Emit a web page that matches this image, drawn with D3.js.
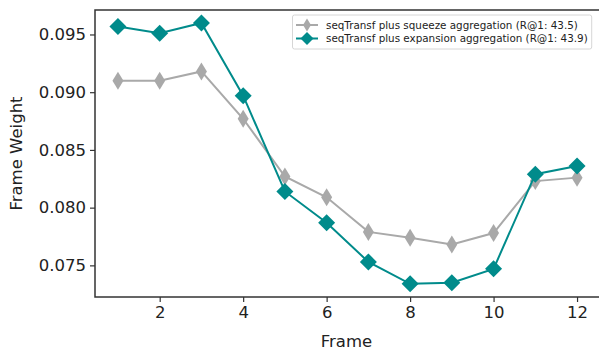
<!DOCTYPE html>
<html>
<head>
<meta charset="utf-8">
<script src="https://cdn.jsdelivr.net/npm/d3@7"></script>
<style>
  body { margin: 0; background: #fff; }
  text { font-family: "DejaVu Sans", sans-serif; fill: #222; }
</style>
</head>
<body>
<div id="chart"></div>
<script>
// data
var frames = [1, 2, 3, 4, 5, 6, 7, 8, 9, 10, 11, 12];
var squeeze = [0.0910, 0.0910, 0.0918, 0.0877, 0.0827, 0.0809, 0.0779, 0.0774, 0.0768, 0.0778, 0.0823, 0.0826];
var expansion = [0.0957, 0.0951, 0.0960, 0.0897, 0.0814, 0.0787, 0.0753, 0.0734, 0.0735, 0.0747, 0.0829, 0.0836];
var xTicks = [2, 4, 6, 8, 10, 12];
var yTicks = [0.075, 0.080, 0.085, 0.090, 0.095];
var seriesNames = ["seqTransf plus squeeze aggregation (R@1: 43.5)",
                   "seqTransf plus expansion aggregation (R@1: 43.9)"];

(function() {
  var width = 599, height = 350;
  var mLeft = 95, mRight = 600, mTop = 10, mBottom = 297;
  var spineColor = '#333';

  var svg = d3.select('#chart').append('svg')
    .attr('width', width)
    .attr('height', height);

  var x = d3.scaleLinear().domain([0.45, 12.55]).range([mLeft, mRight]);
  var y = d3.scaleLinear().domain([0.07226, 0.09712]).range([mBottom, mTop]);

  // axes
  var xAxis = svg.append('g')
    .attr('transform', 'translate(0,' + mBottom + ')')
    .call(d3.axisBottom(x).tickValues(xTicks).tickSize(5).tickPadding(4).tickFormat(d3.format('d')));
  var yAxis = svg.append('g')
    .attr('transform', 'translate(' + mLeft + ',0)')
    .call(d3.axisLeft(y).tickValues(yTicks).tickSize(5).tickPadding(4).tickFormat(d3.format('.3f')));

  [xAxis, yAxis].forEach(function(g) {
    g.select('.domain').remove();
    g.selectAll('line').attr('stroke', spineColor).attr('stroke-width', 1.2);
    g.selectAll('text').attr('font-size', 16.5).attr('font-family', 'DejaVu Sans').attr('fill', '#222');
  });

  // spines (right one falls just outside the picture)
  svg.append('rect')
    .attr('x', mLeft).attr('y', mTop)
    .attr('width', mRight - mLeft).attr('height', mBottom - mTop)
    .attr('fill', 'none')
    .attr('stroke', spineColor)
    .attr('stroke-width', 1.5);

  // axis labels
  svg.append('text')
    .attr('x', (mLeft + mRight) / 2 - 1)
    .attr('y', 347)
    .attr('text-anchor', 'middle')
    .attr('font-size', 16.5)
    .text('Frame');
  svg.append('text')
    .attr('transform', 'translate(22,' + ((mTop + mBottom) / 2) + ') rotate(-90)')
    .attr('text-anchor', 'middle')
    .attr('font-size', 16.5)
    .text('Frame Weight');

  function diamond(cx, cy, hw, hh) {
    return 'M' + cx + ',' + (cy - hh) + 'L' + (cx + hw) + ',' + cy +
           'L' + cx + ',' + (cy + hh) + 'L' + (cx - hw) + ',' + cy + 'Z';
  }

  function drawSeries(vals, color, hw, hh) {
    var line = d3.line()
      .x(function(d, i) { return x(frames[i]); })
      .y(function(d) { return y(d); });
    svg.append('path')
      .datum(vals)
      .attr('d', line)
      .attr('fill', 'none')
      .attr('stroke', color)
      .attr('stroke-width', 2);
    svg.append('g').selectAll('path')
      .data(vals)
      .enter().append('path')
      .attr('d', function(d, i) { return diamond(x(frames[i]), y(d), hw, hh); })
      .attr('fill', color);
  }

  drawSeries(squeeze, '#a9a9a9', 5.5, 9);
  drawSeries(expansion, '#008b8b', 8.5, 8.5);

  // legend
  var lg = svg.append('g');
  var box = lg.append('rect')
    .attr('x', 292.5).attr('y', 15)
    .attr('width', 300).attr('height', 34)
    .attr('rx', 2)
    .attr('fill', '#fff')
    .attr('fill-opacity', 0.8)
    .attr('stroke', '#d6d6d6')
    .attr('stroke-width', 1);

  var legendRows = [
    {name: seriesNames[0], color: '#a9a9a9', hw: 4, hh: 6.5, yy: 25},
    {name: seriesNames[1], color: '#008b8b', hw: 6.5, hh: 6.5, yy: 38.5}
  ];
  var labels = [];
  legendRows.forEach(function(r) {
    lg.append('line')
      .attr('x1', 296).attr('x2', 318)
      .attr('y1', r.yy).attr('y2', r.yy)
      .attr('stroke', r.color).attr('stroke-width', 2);
    lg.append('path')
      .attr('d', diamond(307, r.yy, r.hw, r.hh))
      .attr('fill', r.color);
    labels.push(lg.append('text')
      .attr('x', 326).attr('y', r.yy + 3.5)
      .attr('font-size', 10)
      .text(r.name));
  });
  // fit the legend text so the longer label ends about where it does in the reference
  var w = d3.max(labels, function(t) { return t.node().getComputedTextLength(); });
  var fs = Math.min(10.5, 10 * 262 / w);
  labels.forEach(function(t) { t.attr('font-size', fs); });
  w = d3.max(labels, function(t) { return t.node().getComputedTextLength(); });
  box.attr('width', 326 + w + 4 - 292.5);
})();
</script>
</body>
</html>
